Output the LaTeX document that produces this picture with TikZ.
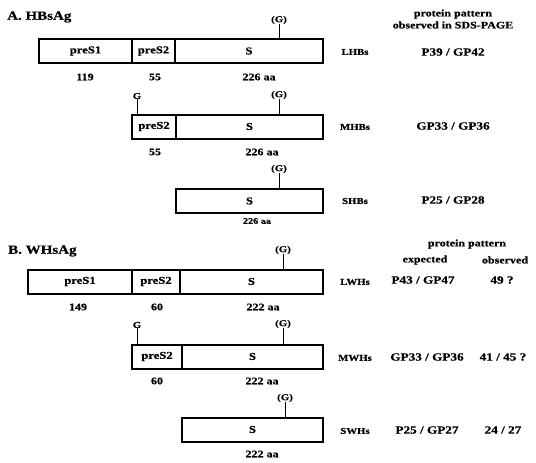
\documentclass[tikz,border=0pt]{standalone}
\usepackage{fontspec}
\setmainfont{Liberation Serif}[FakeStretch=1.2, BoldFeatures={FakeBold=0.5}]
\usepackage{tikz}
\usetikzlibrary{positioning}

\begin{document}
\begin{tikzpicture}[x=1pt, y=-1pt,
    seg/.style={draw, rectangle, line width=2pt, minimum height=24pt, inner sep=0pt, outer sep=0pt, font=\bfseries\fontsize{10.5}{12}\selectfont},
    lbl/.style={inner sep=0pt, font=\bfseries\fontsize{10}{12}\selectfont},
    smalllbl/.style={inner sep=0pt, font=\bfseries\fontsize{8.5}{10}\selectfont},
    glab/.style={inner sep=0pt, font=\bfseries\fontsize{9}{10}\selectfont},
    protname/.style={inner sep=0pt, font=\bfseries\fontsize{9}{10}\selectfont},
    pat/.style={inner sep=0pt, font=\bfseries\fontsize{11}{12}\selectfont},
    paneltitle/.style={inner sep=0pt, anchor=west, font=\bfseries\fontsize{12.5}{14}\selectfont},
    glyco/.style={line width=0.9pt}]

    \useasboundingbox (0,0) rectangle (536,463);

    % A. HBsAg
    \node (titleA) [paneltitle] at (7,17) {A. HBsAg};
    \node (headA) [lbl, align=center] at (453,19) {protein pattern\\observed in SDS-PAGE};

    % LHBs
    \node (l1) [seg, minimum width=93pt] at (85.5,51) {preS1};
    \node (l2) [seg, minimum width=43pt, right=0pt of l1] {preS2};
    \node (l3) [seg, minimum width=148pt, right=0pt of l2] {S};
    \node (lg) [glab] at (279,20) {(G)};
    \node (ln1) [lbl] at (85,77) {119};
    \node (ln2) [lbl] at (155,77) {55};
    \node (ln3) [lbl] at (259,77) {226 aa};
    \node (lname) [protname] at (355,52) {LHBs};
    \node (lpat) [pat] at (453,52) {P39 / GP42};

    % MHBs
    \node (m1) [seg, minimum width=44pt] at (154,126.5) {preS2};
    \node (m2) [seg, minimum width=147pt, right=0pt of m1] {S};
    \node (mG) [glab] at (137,96) {G};
    \node (mg) [glab] at (279,95) {(G)};
    \node (mn1) [lbl] at (155,152) {55};
    \node (mn2) [lbl] at (262,152) {226 aa};
    \node (mname) [protname] at (355,127) {MHBs};
    \node (mpat) [pat] at (453,126) {GP33 / GP36};

    % SHBs
    \node (s1) [seg, minimum width=147pt] at (249.5,201) {S};
    \node (sg) [glab] at (279,169) {(G)};
    \node (sn1) [smalllbl] at (257,221) {226 aa};
    \node (sname) [protname] at (355,201) {SHBs};
    \node (spat) [pat] at (453,200) {P25 / GP28};

    % B. WHsAg
    \node (titleB) [paneltitle] at (8,251) {B. WHsAg};
    \node (headB) [lbl] at (467,244) {protein pattern};
    \node (expB) [lbl] at (425,260) {expected};
    \node (obsB) [lbl] at (505,260) {observed};

    % LWHs
    \node (w1) [seg, minimum width=104pt] at (80,281.5) {preS1};
    \node (w2) [seg, minimum width=48pt, right=0pt of w1] {preS2};
    \node (w3) [seg, minimum width=143pt, right=0pt of w2] {S};
    \node (wg) [glab] at (283,250) {(G)};
    \node (wn1) [lbl] at (78,307) {149};
    \node (wn2) [lbl] at (157,307) {60};
    \node (wn3) [lbl] at (263,307) {222 aa};
    \node (wname) [protname] at (355,282) {LWHs};
    \node (wexp) [pat] at (423,280) {P43 / GP47};
    \node (wobs) [pat] at (502,280) {49 ?};

    % MWHs
    \node (v1) [seg, minimum width=50pt] at (157,356.5) {preS2};
    \node (v2) [seg, minimum width=141pt, right=0pt of v1] {S};
    \node (vG) [glab] at (137,325) {G};
    \node (vg) [glab] at (283,324) {(G)};
    \node (vn1) [lbl] at (157,381) {60};
    \node (vn2) [lbl] at (262,381) {222 aa};
    \node (vname) [protname] at (355,358) {MWHs};
    \node (vexp) [pat] at (427,357) {GP33 / GP36};
    \node (vobs) [pat] at (503,357) {41 / 45 ?};

    % SWHs
    \node (u1) [seg, minimum width=141pt] at (252.5,429.5) {S};
    \node (ug) [glab] at (285,398) {(G)};
    \node (un1) [lbl] at (262,454) {222 aa};
    \node (uname) [protname] at (355,431) {SWHs};
    \node (uexp) [pat] at (427,430) {P25 / GP27};
    \node (uobs) [pat] at (503,430) {24 / 27};

    % Glycosylation ticks
    \draw[glyco] (lg) -- (lg |- l3.north);
    \draw[glyco] (mG) -- (mG |- m1.north);
    \draw[glyco] (mg) -- (mg |- m2.north);
    \draw[glyco] (sg) -- (sg |- s1.north);
    \draw[glyco] (wg) -- (wg |- w3.north);
    \draw[glyco] (vG) -- (vG |- v1.north);
    \draw[glyco] (vg) -- (vg |- v2.north);
    \draw[glyco] (ug) -- (ug |- u1.north);
\end{tikzpicture}
\end{document}
